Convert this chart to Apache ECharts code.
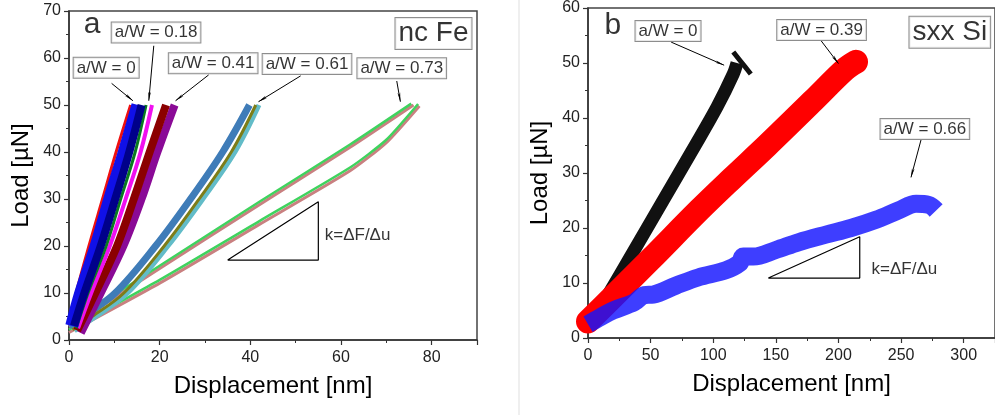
<!DOCTYPE html>
<html><head><meta charset="utf-8">
<script src="https://cdn.jsdelivr.net/npm/echarts@6/dist/echarts.min.js"></script>
<style>html,body{margin:0;padding:0;background:#fff}#c{width:995px;height:415px}</style>
</head><body><div id="c"></div>
<script>
// ---------- Panel a: nc Fe  (Displacement nm, Load uN) ----------
const feRed     = [[0.2,3.5],[1.6,10],[4.4,20],[7.4,30],[10.4,40],[13.6,50]];
const feBlue    = [[0.6,3],[2.6,10],[6.0,20],[9.0,30],[12.2,40],[15.2,50]];
const feNavy    = [[1.1,3],[3.4,10],[7.0,20],[10.2,30],[13.3,40],[16.0,50]];
const feGreen   = [[1.6,2.5],[4.2,10],[8.2,20],[11.4,30],[14.6,40],[17.0,50]];
const feMagenta = [[2.0,2.5],[4.9,10],[9.0,20],[12.5,30],[15.8,40],[18.3,50]];
const feDarkRed = [[1.8,2],[5.8,10],[10.6,20],[14.3,30],[17.8,40],[21.4,50]];
const fePurple  = [[2.6,1.5],[7.0,10],[12.0,20],[16.0,30],[19.5,40],[23.3,50]];
const fe61Left  = [[0,3.0],[3.2,5],[10.2,10],[19.1,20],[26.8,30],[33.9,40],[39.8,50]];
const fe61Olive = [[0.8,2.2],[5.1,5],[12.1,10],[21.0,20],[28.7,30],[35.8,40],[41.2,50]];
const fe61Teal  = [[1.2,2.0],[5.9,5],[12.9,10],[21.8,20],[29.5,30],[36.6,40],[41.9,50]];
const fe73UpGreen = [[0,3.4],[20,15.8],[42,29.4],[62,41.6],[75.5,50.3]];
const fe73UpPink  = [[0,2.8],[20,15.2],[42,28.8],[62,41.0],[76,50.0]];
const fe73LoGreen = [[0,2.2],[20,12.8],[42,25.3],[62,36.7],[70,42.6],[77,50.2]];
const fe73LoPink  = [[0,1.6],[20,12.1],[42,24.6],[62,36.0],[70,42.0],[77.3,49.8]];
const feTriangle  = [[35,17],[55,17],[55,29.4],[35,17]];
const feLabels    = ['a/W = 0','a/W = 0.18','a/W = 0.41','a/W = 0.61','a/W = 0.73'];

// ---------- Panel b: sxx Si ----------
const siBlack    = [[1,2.5],[13.5,6.9],[37,16],[60,25],[83,34],[103,42],[116,48],[119,50]];
const siBlackTip = [[116,52],[123,50],[130,48]];
const siRed      = [[0,3],[20,7.5],[50,14.3],[89,23.3],[115,29],[143,35],[180,43.2],[205,48.8],[214,50.2]];
const siBlue     = [[0,2.5],[10,3.8],[20,5],[37,6.5],[45,7.8],[52,7.9],[70,9.5],[88,11],[110,12.3],[121,13.6],[124,14.8],[132,14.8],[150,16],[168,17.4],[190,18.8],[210,20],[230,21.5],[248,23.2],[262,24.4],[272,24.2],[278,23.2]];
const siTriangle = [[144,10.9],[217,10.9],[217,18.4],[144,10.9]];
const siLabels   = ['a/W = 0','a/W = 0.39','a/W = 0.66'];

// axis ranges
const feX = {min:0,max:90,interval:20}, feY = {min:0,max:70,interval:10};
const siX = {min:0,max:325,interval:50}, siY = {min:0,max:60,interval:10};

const FONT = 'Liberation Sans, Arial, sans-serif';

function band(data, color, width, idx, z, opacity, cap, smooth){
  return {type:'line', xAxisIndex:idx, yAxisIndex:idx, data:data, symbol:'none', showSymbol:false,
    silent:true, animation:false, z:z||2, smooth: smooth==null ? 0.35 : smooth,
    lineStyle:{color:color, width:width, cap:cap||'butt', join:'round', opacity:opacity==null?1:opacity}};
}
function labelSeries(idx, items, fontSize, border){
  return {type:'scatter', xAxisIndex:idx, yAxisIndex:idx, symbol:'rect', symbolSize:1, silent:true, animation:false, z:10,
    itemStyle:{color:'rgba(0,0,0,0)'},
    data: items.map(it=>({value:[it[0],it[1]], name:it[2]})),
    label:{show:true, position:'inside', formatter:'{b}', color:'#000', fontFamily:FONT, fontSize:fontSize,
      lineHeight:fontSize, padding: border ? [2,3,1,3] : 0,
      borderColor: border ? '#707070' : 'transparent', borderWidth: border ? 1 : 0,
      backgroundColor: border ? '#fff' : 'transparent'}};
}
function arrows(idx, segs){
  return {type:'line', xAxisIndex:idx, yAxisIndex:idx, data:[], silent:true, animation:false, z:9,
    markLine:{silent:true, animation:false, symbol:['none','arrow'], symbolSize:[2,9],
      label:{show:false}, lineStyle:{color:'#000', width:1, type:'solid'},
      data: segs.map(s=>[{coord:[s[0],s[1]]},{coord:[s[2],s[3]]}])}};
}
function xAxis(idx, r, name){
  return {type:'value', gridIndex:idx, min:r.min, max:r.max, interval:r.interval,
    name:name, nameLocation:'middle', nameGap:34,
    nameTextStyle:{fontFamily:FONT, fontSize:24, color:'#000'},
    axisLine:{lineStyle:{color:'#333', width:1.5}},
    axisTick:{show:true, inside:false, length:5, lineStyle:{color:'#333', width:1.2}},
    minorTick:{show:true, splitNumber:2, length:3, lineStyle:{color:'#333', width:1}},
    axisLabel:{fontFamily:FONT, fontSize:16, color:'#222', margin:10, showMaxLabel:false},
    splitLine:{show:false}};
}
function yAxis(idx, r, name){
  return {type:'value', gridIndex:idx, min:r.min, max:r.max, interval:r.interval,
    name:name, nameLocation:'middle', nameGap:36, nameRotate:90,
    nameTextStyle:{fontFamily:FONT, fontSize:24, color:'#000'},
    axisLine:{lineStyle:{color:'#333', width:1.5}},
    axisTick:{show:true, inside:false, length:5, lineStyle:{color:'#333', width:1.2}},
    minorTick:{show:true, splitNumber:2, length:3, lineStyle:{color:'#333', width:1}},
    axisLabel:{fontFamily:FONT, fontSize:16, color:'#222', margin:8},
    splitLine:{show:false}};
}

const chart = echarts.init(document.getElementById('c'), null, {renderer:'canvas'});
chart.setOption({
  animation:false,
  backgroundColor:'#fff',
  graphic:[{type:'line', shape:{x1:519,y1:0,x2:519,y2:415}, style:{stroke:'#efefef', lineWidth:2}, silent:true}],
  grid:[
    {left:69, right:518, top:11, bottom:75, show:true, borderColor:'#444', borderWidth:1.5, backgroundColor:'transparent'},
    {left:588, right:-3, top:8, bottom:77, show:true, borderColor:'#444', borderWidth:1.5, backgroundColor:'transparent'}
  ],
  xAxis:[xAxis(0, feX, 'Displacement [nm]'), xAxis(1, siX, 'Displacement [nm]')],
  yAxis:[yAxis(0, feY, 'Load [µN]'), yAxis(1, siY, 'Load [µN]')],
  series:[
    // panel a, a/W = 0.73
    band(fe73UpPink, '#c98080', 3, 0, 2, 1, 'butt', 0.2),
    band(fe73UpGreen, '#3fd35e', 2.5, 0, 2, 1, 'butt', 0.2),
    band(fe73LoPink, '#c98080', 3, 0, 2, 1, 'butt', 0.2),
    band(fe73LoGreen, '#3fd35e', 2.5, 0, 2, 1, 'butt', 0.2),
    // a/W = 0.61
    band(fe61Left, '#3f7cb8', 7, 0, 3),
    band(fe61Teal, '#62bcc8', 5, 0, 3),
    band(fe61Olive, '#7d7d18', 3, 0, 3),
    // a/W = 0.41
    band(fePurple, '#8a0a96', 8, 0, 4),
    band(feDarkRed, '#8b0000', 8, 0, 4),
    // a/W = 0.18
    band(feMagenta, '#f010f0', 4, 0, 5),
    band(feGreen, '#0a7a20', 3, 0, 5),
    // a/W = 0
    band(feRed, '#ee1010', 3, 0, 5),
    band(feBlue, '#1010e8', 13, 0, 6),
    band(feNavy, '#00008a', 8, 0, 6),
    {type:'line', xAxisIndex:0, yAxisIndex:0, data:feTriangle, symbol:'none', silent:true, animation:false, z:8,
      lineStyle:{color:'#000', width:1.2}},
    labelSeries(0, [[8.2,57.9,feLabels[0]],[19.2,65.4,feLabels[1]],[31.8,58.9,feLabels[2]],[52.5,58.7,feLabels[3]],[73.4,57.8,feLabels[4]]], 17, true),
    labelSeries(0, [[80.4,65.2,'nc Fe']], 28, true),
    labelSeries(0, [[5.1,67,'a']], 30, false),
    {type:'scatter', xAxisIndex:0, yAxisIndex:0, symbolSize:1, silent:true, animation:false, itemStyle:{color:'rgba(0,0,0,0)'},
      data:[{value:[56.3,22.3], name:'k=ΔF/Δu'}],
      label:{show:true, position:'right', distance:0, formatter:'{b}', fontFamily:FONT, fontSize:17, color:'#000'}},
    arrows(0, [[9.4,54.6,14.1,50.9],[18.7,62.6,17.6,50.9],[30.8,56.4,23.5,50.9],[51.1,56.2,41.8,50.7],[72.3,55.1,73.1,50.7]]),

    // panel b
    band(siBlack, '#111', 13, 1, 3),
    band(siBlackTip, '#111', 5, 1, 3),
    band(siRed, '#ff0000', 24, 1, 4, 1, 'round'),
    band(siBlue, '#1414ff', 18, 1, 5, 0.82),
    {type:'line', xAxisIndex:1, yAxisIndex:1, data:siTriangle, symbol:'none', silent:true, animation:false, z:8,
      lineStyle:{color:'#000', width:1.2}},
    labelSeries(1, [[63.9,55.8,siLabels[0]],[186.5,56,siLabels[1]],[269,38,siLabels[2]]], 17, true),
    labelSeries(1, [[288.9,55.6,'sxx Si']], 28, true),
    labelSeries(1, [[19.8,56.7,'b']], 30, false),
    {type:'scatter', xAxisIndex:1, yAxisIndex:1, symbolSize:1, silent:true, animation:false, itemStyle:{color:'rgba(0,0,0,0)'},
      data:[{value:[226,12.4], name:'k=ΔF/Δu'}],
      label:{show:true, position:'right', distance:0, formatter:'{b}', fontFamily:FONT, fontSize:17, color:'#000'}},
    arrows(1, [[66.4,53.8,108.7,49.6],[186.3,54,200,49.9],[265.9,36,257.9,29.2]])
  ]
});
</script>
</body></html>
